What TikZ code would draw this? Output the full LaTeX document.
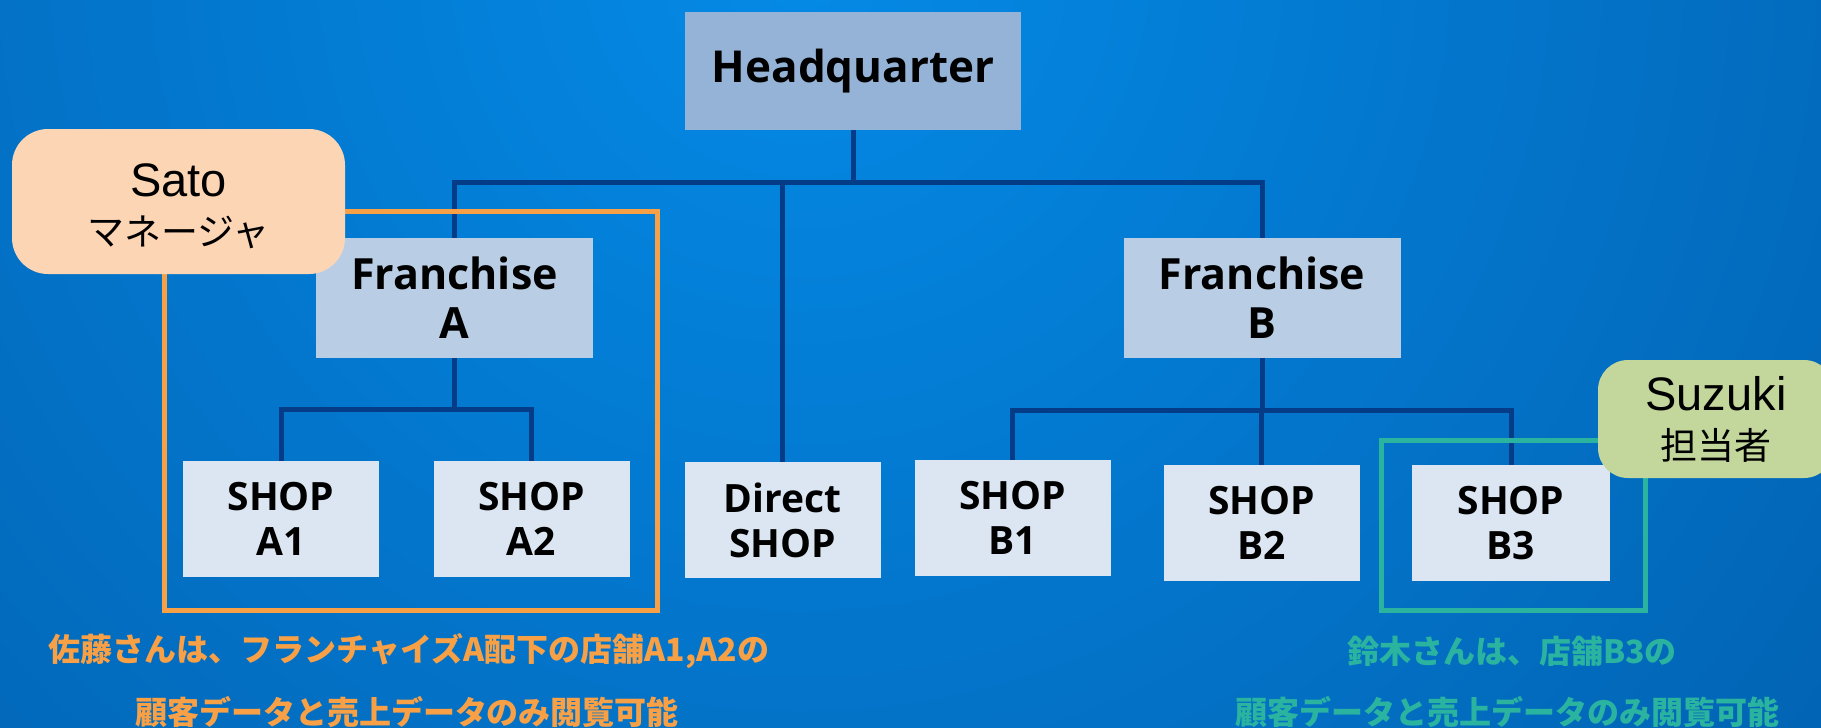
\documentclass[tikz,border=0pt]{standalone}
\usepackage{fontspec}
\setmainfont{Open Sans}
\newfontfamily\jpfont{Noto Sans CJK JP}
\newfontfamily\arialfont{Liberation Sans}
\definecolor{bgA}{RGB}{4,138,230}
\definecolor{bgB}{RGB}{0,60,128}
\definecolor{conn}{RGB}{4,60,135}
\definecolor{hqfill}{RGB}{149,179,215}
\definecolor{frfill}{RGB}{185,205,229}
\definecolor{shopfill}{RGB}{220,230,242}
\definecolor{satofill}{RGB}{252,213,181}
\definecolor{suzfill}{RGB}{195,214,155}
\definecolor{orangeline}{RGB}{247,160,70}
\definecolor{tealline}{RGB}{42,180,160}
\pgfdeclareradialshading{bgshade}{\pgfpoint{0bp}{0bp}}{color(0bp)=(bgA); color(50bp)=(bgB)}
\tikzset{
  box/.style={inner sep=0pt, align=center},
  hqbox/.style={box, fill=hqfill, minimum width=336pt, minimum height=118pt, font=\bfseries\fontsize{44}{50}\selectfont},
  frbox/.style={box, fill=frfill, minimum width=277pt, minimum height=120pt, font=\bfseries\fontsize{43}{49}\selectfont},
  shopbox/.style={box, fill=shopfill, minimum width=196pt, minimum height=116pt, font=\bfseries\fontsize{39}{45}\selectfont},
  tree/.style={draw=conn, line width=5pt},
  person/.style={box, rounded corners=36pt, font=\arialfont\fontsize{47}{49}\selectfont},
  satobox/.style={person, fill=satofill, minimum width=333pt, minimum height=145pt},
  suzbox/.style={person, fill=suzfill, minimum width=236pt, minimum height=118pt, rounded corners=30pt},
  orframe/.style={draw=orangeline, line width=5pt},
  tlframe/.style={draw=tealline, line width=5pt},
  captext/.style={inner sep=0pt, font=\jpfont\bfseries\fontsize{32}{36}\selectfont},
  caporange/.style={captext, text=orangeline},
  capteal/.style={captext, text=tealline}
}
\begin{document}
\begin{tikzpicture}[x=1pt,y=-1pt]
\useasboundingbox (0,0) rectangle (1821,728);
\begin{scope}
  \clip (0,0) rectangle (1821,728);
  \shade[shading=bgshade] (800,-40) circle[radius=1300pt];
\end{scope}

% boxes
\node[hqbox] (hq) at (853,71) {Headquarter};
\node[frbox] (fa) at (454.5,298) {Franchise\\A};
\node[frbox] (fb) at (1262,298) {Franchise\\B};
\node[shopbox] (a1) at (281,519) {SHOP\\A1};
\node[shopbox] (a2) at (531.5,519) {SHOP\\A2};
\node[shopbox] (ds) at (782.5,520) {Direct\\SHOP};
\node[shopbox] (b1) at (1012.5,518) {SHOP\\B1};
\node[shopbox] (b2) at (1261.5,523) {SHOP\\B2};
\node[shopbox, minimum width=198pt] (b3) at (1511,523) {SHOP\\B3};

% connectors
\coordinate (hqbar) at (0,182);
\coordinate (fabar) at (0,409);
\coordinate (fbbar) at (0,410);
\draw[tree] (hq.south) -- (hq.south |- hqbar);
\draw[tree] (fa.north) -- (fa.north |- hqbar) -- (fb.north |- hqbar) -- (fb.north);
\draw[tree] (ds.north) -- (ds.north |- hqbar);
\draw[tree] (fa.south) -- (fa.south |- fabar);
\draw[tree] (a1.north) -- (a1.north |- fabar) -- (a2.north |- fabar) -- (a2.north);
\draw[tree] (fb.south) -- (fb.south |- fbbar);
\draw[tree] (b1.north) -- (b1.north |- fbbar) -- (b3.north |- fbbar) -- (b3.north);
\draw[tree] (b2.north) -- (b2.north |- fbbar);

% frames
\coordinate (orA) at (164,211);
\coordinate (orB) at (657,610);
\draw[orframe] (orA) rectangle (orB);
\coordinate (tlA) at (1381,440);
\coordinate (tlB) at (1645,610);
\draw[tlframe] (tlA) rectangle (tlB);

% people
\node[satobox] (sato) at (178.5,201.5) {\rule{0pt}{43pt}Sato\\{\jpfont\fontsize{37}{49}\selectfont マネージャ}};
\node[suzbox] (suzuki) at (1716,419) {Suzuki\\{\jpfont\fontsize{37}{49}\selectfont 担当者}};

% captions
\node[caporange] (capa1) at (409,651) {佐藤さんは、フランチャイズA配下の店舗A1,A2の};
\node[caporange] (capa2) at (407,712) {顧客データと売上データのみ閲覧可能};
\node[capteal] (capb1) at (1512,651) {鈴木さんは、店舗B3の};
\node[capteal] (capb2) at (1507,712) {顧客データと売上データのみ閲覧可能};
\end{tikzpicture}
\end{document}
